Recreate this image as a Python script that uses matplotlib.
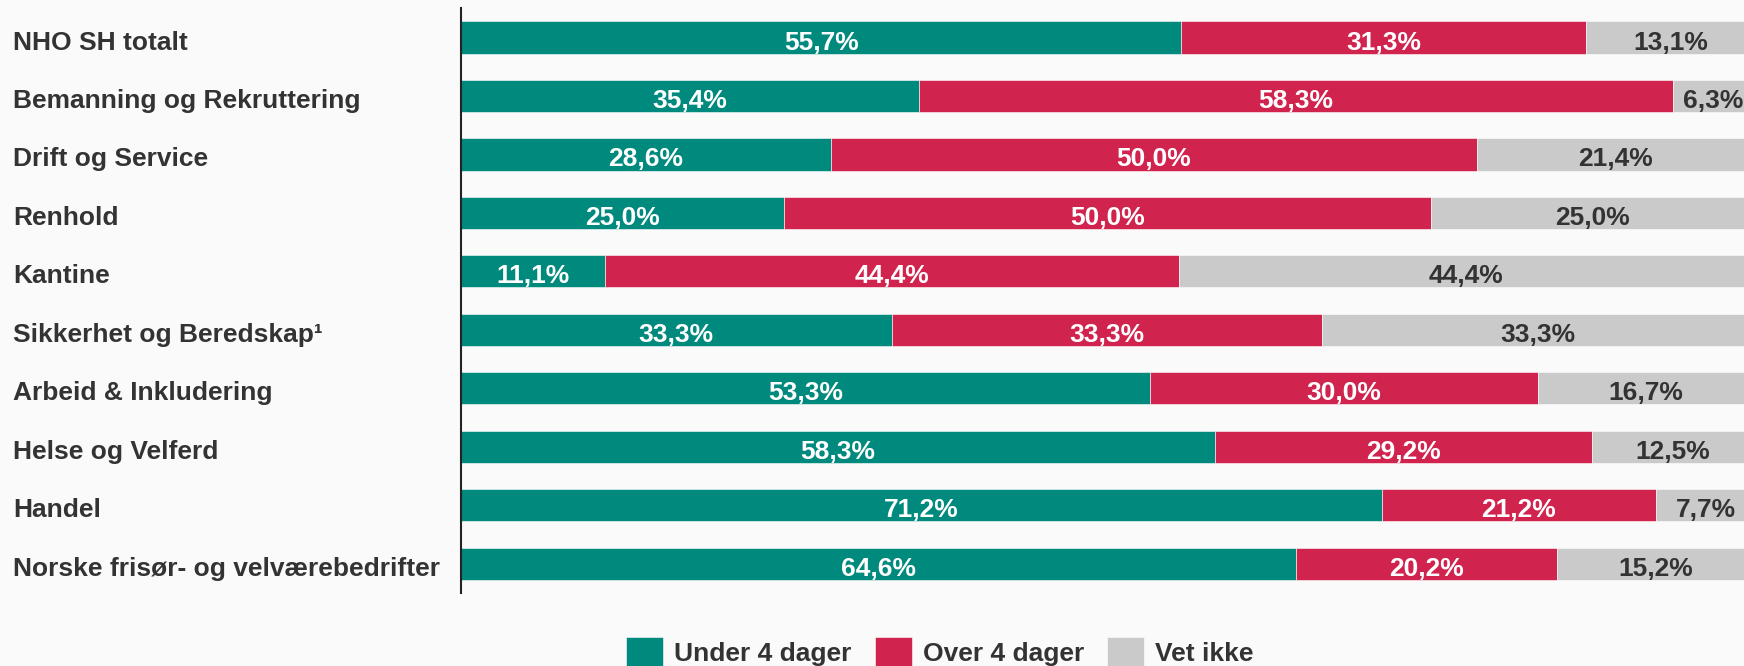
import matplotlib
matplotlib.use("Agg")
import matplotlib.pyplot as plt
import matplotlib.transforms as mtransforms
import numpy as np

# data
kategorier = [
    "NHO SH totalt",
    "Bemanning og Rekruttering",
    "Drift og Service",
    "Renhold",
    "Kantine",
    "Sikkerhet og Beredskap\u00b9",
    "Arbeid & Inkludering",
    "Helse og Velferd",
    "Handel",
    "Norske frisør- og velværebedrifter",
]
under_4 = [55.7, 35.4, 28.6, 25.0, 11.1, 33.3, 53.3, 58.3, 71.2, 64.6]
over_4 = [31.3, 58.3, 50.0, 50.0, 44.4, 33.3, 30.0, 29.2, 21.2, 20.2]
vet_ikke = [13.1, 6.3, 21.4, 25.0, 44.4, 33.3, 16.7, 12.5, 7.7, 15.2]
serier = ["Under 4 dager", "Over 4 dager", "Vet ikke"]

farger = ["#00897D", "#D0234E", "#CACACA"]
tekstfarger = ["white", "white", "#333333"]
bg = "#FAFAFA"

plt.rcParams["font.family"] = ["Liberation Sans", "DejaVu Sans"]
plt.rcParams["font.weight"] = "bold"

fig = plt.figure(figsize=(17.44, 6.66), dpi=100, facecolor=bg)
ax = fig.add_axes([461 / 1744, 73 / 666, 1293 / 1744, 584.7 / 666])
ax.set_facecolor(bg)

# text sits with its baseline ~12 px below the bar centre
ned = mtransforms.ScaledTranslation(0, -12 / 100, fig.dpi_scale_trans)

y = np.arange(len(kategorier))
venstre = np.zeros(len(kategorier))
for verdier, farge, tf, navn in zip([under_4, over_4, vet_ikke], farger, tekstfarger, serier):
    verdier = np.array(verdier)
    bars = ax.barh(y, verdier, left=venstre, height=0.55, color=farge,
                   edgecolor="white", linewidth=0.4, label=navn)
    for b, v in zip(bars, verdier):
        ax.text(b.get_x() + b.get_width() / 2, b.get_y() + b.get_height() / 2,
                f"{v:.1f}".replace(".", ",") + "%", ha="center", va="baseline",
                color=tf, fontsize=19, fontweight="bold", clip_on=False,
                transform=ax.transData + ned)
    venstre += verdier

ax.set_xlim(0, 100)
ax.set_ylim(len(kategorier) - 0.5, -0.5)
ax.set_yticks(y)
ax.set_yticklabels(kategorier, fontsize=19, fontweight="bold", color="#333333")
ax.tick_params(axis="y", length=0, pad=(461 - 13) * 0.72)
for lbl in ax.get_yticklabels():
    lbl.set_horizontalalignment("left")
    lbl.set_verticalalignment("baseline")
    lbl.set_transform(lbl.get_transform() + ned)
ax.set_xticks([])
for s in ["top", "right", "bottom"]:
    ax.spines[s].set_visible(False)
ax.spines["left"].set_color("#222222")
ax.spines["left"].set_linewidth(1.5)

fig.legend(loc="center", bbox_to_anchor=(940 / 1744, 14 / 666), ncol=3,
           frameon=False, fontsize=19, handlelength=1.4, handleheight=1.4,
           handletextpad=0.42, columnspacing=0.87, borderpad=0,
           labelcolor="#333333")

fig.savefig("out.png", dpi=100, facecolor=bg)
